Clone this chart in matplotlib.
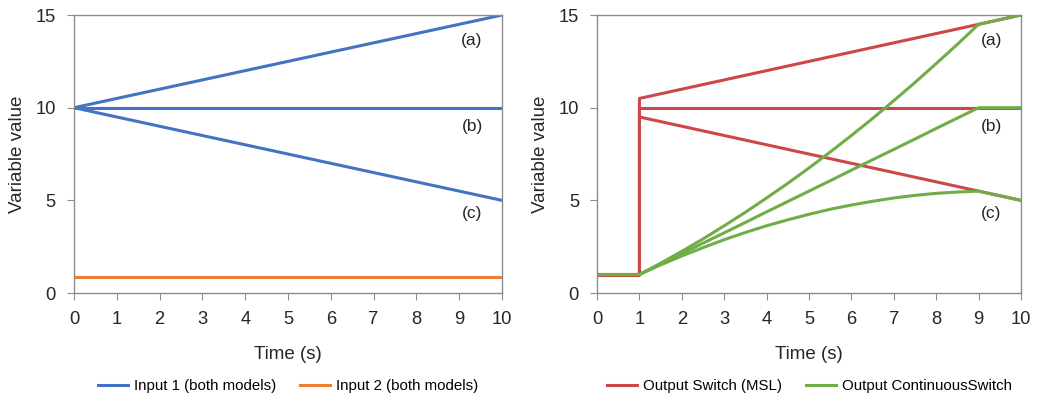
import numpy as np
import matplotlib.pyplot as plt

plt.rcParams['font.family'] = ['Liberation Sans', 'DejaVu Sans']

# left panel: inputs
t_in = [0, 10]
input1_a = [10, 15]
input1_b = [10, 10]
input1_c = [10, 5]
input2 = [0.84, 0.84]

# right panel: Switch (MSL) output
t_sw = [0, 1, 1, 9, 10]
sw_a = [1, 1, 10.5, 14.5, 15]
sw_b = [1, 1, 10, 10, 10]
sw_c = [1, 1, 9.5, 5.5, 5]

# right panel: ContinuousSwitch output
t_cs = [0, 1, 1.5, 2, 2.5, 3, 3.5, 4, 4.5, 5, 5.5, 6, 6.5, 7, 7.5, 8, 8.5, 9, 10]
cs_a = [1, 1, 1.61, 2.25, 2.92, 3.63, 4.36, 5.13, 5.92, 6.75, 7.61, 8.5, 9.42,
        10.38, 11.36, 12.38, 13.42, 14.5, 15]
cs_b = [1, 1, 1.56, 2.13, 2.69, 3.25, 3.81, 4.38, 4.94, 5.5, 6.06, 6.63, 7.19,
        7.75, 8.31, 8.88, 9.44, 10, 10]
cs_c = [1, 1, 1.52, 2.0, 2.45, 2.88, 3.27, 3.63, 3.95, 4.25, 4.52, 4.75, 4.95,
        5.13, 5.27, 5.38, 5.45, 5.5, 5]

labels_abc = ['(a)', '(b)', '(c)']
label_y = [13.6, 9.0, 4.3]

blue = '#4472C4'
orange = '#ED7D31'
red = '#CC4848'
green = '#70AD47'
grey = '#8c8c8c'
txt = '#262626'

fig = plt.figure(figsize=(10.48, 3.96), dpi=100)
ax1 = fig.add_axes([0.0706, 0.260, 0.4084, 0.702])
ax2 = fig.add_axes([0.5697, 0.260, 0.4045, 0.702])

lw = 2.2
ax1.plot(t_in, input1_a, color=blue, lw=lw, label='Input 1 (both models)')
ax1.plot(t_in, input1_b, color=blue, lw=lw)
ax1.plot(t_in, input1_c, color=blue, lw=lw)
ax1.plot(t_in, input2, color=orange, lw=lw, label='Input 2 (both models)')

ax2.plot(t_sw, sw_a, color=red, lw=lw, label='Output Switch (MSL)')
ax2.plot(t_sw, sw_b, color=red, lw=lw)
ax2.plot(t_sw, sw_c, color=red, lw=lw)
ax2.plot(t_cs, cs_a, color=green, lw=lw, label='Output ContinuousSwitch')
ax2.plot(t_cs, cs_b, color=green, lw=lw)
ax2.plot(t_cs, cs_c, color=green, lw=lw)

for ax in (ax1, ax2):
    ax.set_xlim(0, 10)
    ax.set_ylim(0, 15)
    ax.set_xticks(range(0, 11))
    ax.set_yticks([0, 5, 10, 15])
    ax.tick_params(direction='out', length=5, color=grey, labelsize=13.2,
                   labelcolor=txt, pad=8)
    for s in ax.spines.values():
        s.set_color(grey)
        s.set_linewidth(1.0)
    ax.set_xlabel('Time (s)', fontsize=13.5, color=txt, labelpad=13)
    ax.set_ylabel('Variable value', fontsize=13.5, color=txt, labelpad=7)
    for lab, y in zip(labels_abc, label_y):
        ax.text(9.3, y, lab, fontsize=12.5, ha='center', va='center',
                color=txt)
    ax.legend(loc='upper center', bbox_to_anchor=(0.5, -0.262), ncol=2,
              frameon=False, fontsize=10.8, handlelength=2.0, columnspacing=1.6,
              handletextpad=0.4)

fig.savefig('out.png', dpi=100)
